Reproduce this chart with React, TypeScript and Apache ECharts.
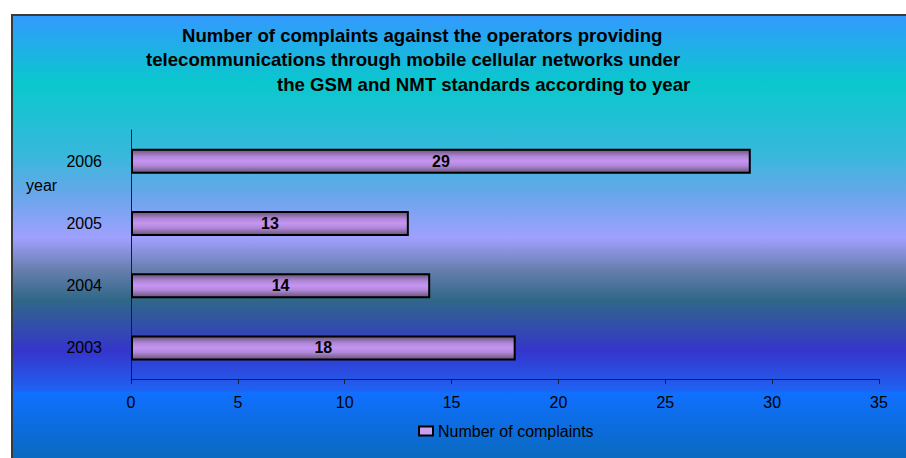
import React, { useEffect, useRef } from "react";
import * as echarts from "echarts";

const years = ["2003", "2004", "2005", "2006"];
const complaints = [18, 14, 13, 29];
const xTicks = { min: 0, max: 35, interval: 5 };
const titleLines = [
  "Number of complaints against the operators providing",
  "telecommunications through mobile cellular networks under",
  "the GSM and NMT standards according to year",
];
const seriesName = "Number of complaints";
const yAxisName = "year";

export default function App() {
  const ref = useRef<HTMLDivElement>(null);
  useEffect(() => {
    document.body.style.margin = "0";
    document.body.style.overflow = "hidden";
    const chart = echarts.init(ref.current!, null, { renderer: "svg" });
    const font = "'Liberation Sans', Arial, sans-serif";
    const bgStops = [
      [0, "#3399ff"],
      [0.145, "#0ac8cc"],
      [0.298, "#38b8dc"],
      [0.386, "#6aa6ea"],
      [0.474, "#a0a0ff"],
      [0.539, "#6a80b0"],
      [0.605, "#306888"],
      [0.715, "#3535cc"],
      [0.795, "#2060f0"],
      [0.805, "#1070ff"],
      [0.974, "#0868b0"],
      [1, "#0866a8"],
    ].map(([offset, color]) => ({ offset: offset as number, color: color as string }));
    const titleX = [182, 146, 277];
    const titleY = [35.7, 59.5, 84];
    chart.setOption({
      animation: false,
      backgroundColor: "#ffffff",
      textStyle: { fontFamily: font },
      graphic: [
        {
          type: "rect",
          z: -10,
          silent: true,
          shape: { x: 12, y: 15, width: 920, height: 470 },
          style: {
            fill: new echarts.graphic.LinearGradient(0, 0, 0, 1, bgStops),
            stroke: "#3a3a3a",
            lineWidth: 2,
          },
        },
        ...titleLines.map((t, i) => ({
          type: "text",
          x: titleX[i],
          y: titleY[i],
          style: {
            text: t,
            fill: "#000",
            font: `bold 18.6px ${font}`,
            align: "left",
            verticalAlign: "middle",
          },
        })),
        {
          type: "text",
          x: 26,
          y: 185,
          style: {
            text: yAxisName,
            fill: "#000",
            font: `16px ${font}`,
            align: "left",
            verticalAlign: "middle",
          },
        },
      ],
      grid: { left: 131, right: 27, top: 130, bottom: 79, containLabel: false },
      xAxis: {
        type: "value",
        min: xTicks.min,
        max: xTicks.max,
        interval: xTicks.interval,
        axisLine: { show: true, lineStyle: { color: "#102030", width: 1 } },
        axisTick: { show: true, length: 5, lineStyle: { color: "#102030" } },
        splitLine: { show: false },
        axisLabel: { color: "#000", fontSize: 16, fontFamily: font, margin: 15 },
      },
      yAxis: {
        type: "category",
        data: years,
        axisLine: { show: true, lineStyle: { color: "#102030", width: 1 } },
        axisTick: { show: false },
        axisLabel: { color: "#000", fontSize: 16, fontFamily: font, margin: 29 },
      },
      legend: {
        left: 418,
        top: 423,
        padding: 0,
        itemWidth: 14,
        itemHeight: 9,
        icon: "rect",
        data: [seriesName],
        itemStyle: { color: "#c8a0f0", borderColor: "#000", borderWidth: 2 },
        textStyle: { color: "#000", fontSize: 16, fontFamily: font },
      },
      series: [
        {
          type: "bar",
          name: seriesName,
          data: complaints,
          barWidth: 25,
          itemStyle: {
            color: new echarts.graphic.LinearGradient(0, 0, 0, 1, [
              { offset: 0, color: "#6a5478" },
              { offset: 0.3, color: "#b088d8" },
              { offset: 0.5, color: "#c694f4" },
              { offset: 0.7, color: "#b088d8" },
              { offset: 1, color: "#6a5478" },
            ]),
            borderColor: "#000",
            borderWidth: 2,
          },
          label: {
            show: true,
            position: "inside",
            color: "#000",
            fontWeight: "bold",
            fontSize: 16,
            fontFamily: font,
          },
        },
      ],
    });
    return () => chart.dispose();
  }, []);
  return (
    <div
      ref={ref}
      style={{ position: "absolute", left: 0, top: 0, width: 906, height: 458 }}
    />
  );
}
